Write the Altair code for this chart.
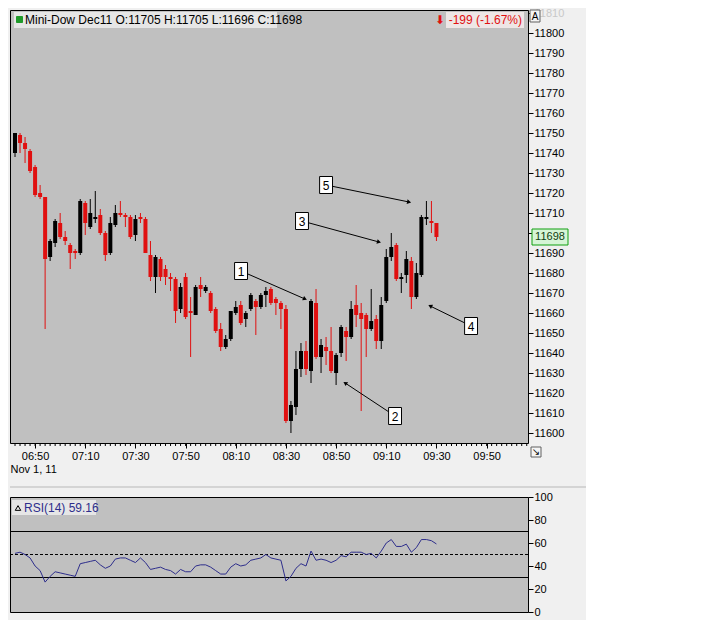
import math
import altair as alt
import pandas as pd

# ---------------- data ----------------
opens = [11740, 11749, 11745, 11741, 11733, 11720, 11718, 11688, 11695, 11705,
         11698, 11694, 11691, 11690, 11715, 11703, 11707, 11709, 11700, 11690,
         11704, 11710, 11709, 11708, 11699, 11708, 11707, 11689, 11678, 11687,
         11682, 11678, 11677, 11662, 11678, 11661, 11659, 11674, 11671, 11670,
         11662, 11652, 11643, 11647, 11660, 11664, 11657, 11662, 11666, 11663,
         11669, 11672, 11667, 11665, 11662, 11606, 11613, 11632, 11641, 11631,
         11665, 11638, 11643, 11641, 11630, 11640, 11651, 11648, 11664, 11660,
         11659, 11652, 11657, 11646, 11666, 11688, 11694, 11677, 11679, 11686,
         11668, 11679, 11707, 11706, 11705]
highs = [11750, 11750, 11748, 11742, 11734, 11724, 11718, 11697, 11707, 11710,
         11701, 11695, 11692, 11717, 11716, 11717, 11721, 11712, 11701, 11708,
         11714, 11716, 11710, 11709, 11709, 11710, 11708, 11696, 11689, 11688,
         11684, 11680, 11678, 11675, 11680, 11668, 11674, 11678, 11674, 11671,
         11663, 11655, 11649, 11661, 11666, 11666, 11661, 11670, 11667, 11670,
         11673, 11673, 11668, 11666, 11664, 11616, 11641, 11645, 11646, 11667,
         11672, 11647, 11648, 11653, 11640, 11654, 11653, 11666, 11674, 11665,
         11660, 11672, 11659, 11668, 11692, 11700, 11695, 11680, 11691, 11688,
         11685, 11709, 11716, 11716, 11705]
lows = [11738, 11740, 11735, 11730, 11718, 11717, 11652, 11686, 11693, 11697,
        11694, 11682, 11687, 11689, 11699, 11702, 11705, 11699, 11686, 11689,
        11703, 11708, 11703, 11697, 11696, 11705, 11690, 11676, 11670, 11676,
        11674, 11671, 11655, 11660, 11657, 11638, 11659, 11668, 11670, 11660,
        11650, 11641, 11642, 11646, 11659, 11654, 11653, 11661, 11649, 11662,
        11663, 11664, 11659, 11652, 11605, 11600, 11609, 11628, 11629, 11625,
        11637, 11630, 11634, 11630, 11624, 11638, 11636, 11647, 11653, 11611,
        11638, 11651, 11642, 11642, 11665, 11686, 11676, 11670, 11675, 11662,
        11667, 11678, 11704, 11700, 11696]
closes = [11750, 11745, 11742, 11731, 11719, 11718, 11687, 11696, 11706, 11698,
          11696, 11690, 11690, 11716, 11705, 11710, 11708, 11700, 11689, 11705,
          11710, 11709, 11708, 11698, 11707, 11707, 11690, 11678, 11688, 11678,
          11678, 11677, 11661, 11673, 11658, 11660, 11673, 11672, 11673, 11661,
          11651, 11643, 11647, 11661, 11663, 11655, 11660, 11669, 11663, 11669,
          11671, 11665, 11665, 11662, 11606, 11614, 11632, 11641, 11632, 11666,
          11638, 11644, 11641, 11631, 11639, 11653, 11648, 11662, 11659, 11657,
          11652, 11656, 11646, 11664, 11688, 11693, 11677, 11678, 11687, 11668,
          11680, 11708, 11708, 11705, 11698]
rsi = [51, 52, 50, 47, 40, 36, 26, 31, 35, 34,
       33, 32, 31, 42, 43, 44, 45, 41, 38, 40,
       46, 47, 47, 45, 43, 47, 43, 37, 38, 39,
       37, 36, 33, 37, 35, 35, 40, 41, 41, 39,
       36, 33, 33, 39, 42, 40, 41, 45, 46, 47,
       50, 47, 46, 45, 27, 31, 38, 42, 40, 53,
       45, 46, 45, 43, 45, 49, 48, 52, 52, 52,
       50, 51, 47, 53, 60, 63, 57, 57, 59, 52,
       56, 63, 63, 62, 59.16]

first_bar_minute = 402          # 06:42, minutes after midnight
bar_minutes = 2
x_ticks = [410, 430, 450, 470, 490, 510, 530, 550, 570, 590]
y_ticks = list(range(11600, 11811, 10))
rsi_ticks = [0, 20, 40, 60, 80, 100]
rsi_levels = [30, 70]
rsi_mid = [50]

ann_labels = ["1", "2", "3", "4", "5"]
ann_box_t = [492.1, 553.5, 516.4, 583.8, 526.0]
ann_box_p = [11681, 11608.5, 11706, 11653.5, 11724]
ann_tip_t = [517.6, 533.6, 547.1, 567.5, 559.1]
ann_tip_p = [11667, 11625, 11695.5, 11663.5, 11715.5]

last_price = 11698

# ---------------- layout constants ----------------
W, H, RH = 518, 433, 115
XDOM = [400, 606.5]
YDOM = [11595, 11811.5]
FONT = "'Liberation Sans Narrow', 'Liberation Sans', sans-serif"
RED = "#e01010"

t = [first_bar_minute + bar_minutes * i for i in range(len(opens))]
df = pd.DataFrame({"t": t, "open": opens, "high": highs, "low": lows,
                   "close": closes, "rsi": rsi})
df["dir"] = ["up" if c >= o else "down" for o, c in zip(opens, closes)]

ppm = W / (XDOM[1] - XDOM[0])
ppp = H / (YDOM[1] - YDOM[0])
angles = []
for bt, bp, tt, tp in zip(ann_box_t, ann_box_p, ann_tip_t, ann_tip_p):
    dx = (tt - bt) * ppm
    dy = -(tp - bp) * ppp
    angles.append(math.degrees(math.atan2(dx, -dy)) % 360)
ann = pd.DataFrame({"label": ann_labels, "bt": ann_box_t, "bp": ann_box_p,
                    "tt": ann_tip_t, "tp": ann_tip_p, "ang": angles})

xs = alt.Scale(domain=XDOM, nice=False, zero=False, padding=0)
ys = alt.Scale(domain=YDOM, nice=False, zero=False, padding=0)
col = alt.Color("dir:N", scale=alt.Scale(domain=["up", "down"], range=["#000000", RED]), legend=None)

x_axis = alt.Axis(values=x_ticks, orient="bottom", tickSize=5, domain=False, grid=False,
                  labelExpr="'0' + floor(datum.value/60) + ':' + (datum.value % 60 < 10 ? '0' : '') + (datum.value % 60)",
                  title="Nov 1, 11", titleAnchor="start", titleAlign="left", titleX=0, titleY=20,
                  titleFontWeight="normal", titleFontSize=11, titleFont=FONT, labelPadding=2,
                  labelOverlap=False)
y_axis = alt.Axis(values=y_ticks, orient="right", tickSize=5, domain=False, grid=False, title=None,
                  labelPadding=1, format="d", labelOverlap=False,
                  labelColor={"condition": {"test": "datum.value == 11810", "value": "#c8c8c8"}, "value": "black"},
                  labelOpacity={"condition": {"test": "datum.value == 11700", "value": 0}, "value": 1})


def X(f):
    return alt.X(f, type="quantitative", scale=xs, axis=x_axis)


def Y(f):
    return alt.Y(f, type="quantitative", scale=ys, axis=y_axis)


base = alt.Chart(df)
wicks = base.mark_rule(strokeWidth=1).encode(x=X("t"), y=Y("low"), y2="high:Q", color=col)
bodies = base.mark_bar(size=4).encode(x=X("t"), y=Y("open"), y2="close:Q", color=col)

minor = alt.Chart(pd.DataFrame({"m": list(range(402, 607, 2))})).mark_rule(color="black").encode(
    x=X("m"), y=alt.value(H), y2=alt.value(H + 3))

abase = alt.Chart(ann)
alines = abase.mark_rule(color="black", strokeWidth=1).encode(
    x=X("bt"), y=Y("bp"), x2="tt:Q", y2="tp:Q")
aheads = abase.mark_point(shape="triangle-up", filled=True, color="black", size=22, opacity=1).encode(
    x=X("tt"), y=Y("tp"), angle=alt.Angle("ang:Q", scale=None))
aboxes = abase.mark_point(shape="M-0.76,-1H0.76V1H-0.76Z", filled=True, fill="white",
                          stroke="black", strokeWidth=1, size=289, opacity=1).encode(
    x=X("bt"), y=Y("bp"))
atext = abase.mark_text(fontSize=12, font="Liberation Sans", color="black", baseline="middle", dy=1).encode(
    x=X("bt"), y=Y("bp"), text="label:N")

one = pd.DataFrame({"v": [last_price]})
tag_box = alt.Chart(pd.DataFrame({"lo": [last_price - 4], "hi": [last_price + 4]})).mark_rect(
    fill="#d6f5d6", stroke="#10a010", strokeWidth=1).encode(
    x=alt.value(W + 4), x2=alt.value(W + 40), y=Y("lo"), y2="hi:Q")
tag_text = alt.Chart(one).mark_text(fontSize=11, font=FONT, color="#104010", align="center",
                                    baseline="middle").encode(
    x=alt.value(W + 22), y=Y("v"), text=alt.Text("v:Q", format="d"))

hdr = pd.DataFrame({"s": ["Mini-Dow Dec11 O:11705 H:11705 L:11696 C:11698"]})
hdr_box = alt.Chart(hdr).mark_rect(fill="#e6e6e6").encode(
    x=alt.value(4), x2=alt.value(267), y=alt.value(2), y2=alt.value(18))
hdr_dot = alt.Chart(hdr).mark_rect(fill="#1f9a2a", cornerRadius=1).encode(
    x=alt.value(6), x2=alt.value(13), y=alt.value(6), y2=alt.value(13))
hdr_text = alt.Chart(hdr).mark_text(align="left", baseline="middle", fontSize=12, font=FONT,
                                    color="black").encode(
    x=alt.value(15), y=alt.value(10), text="s:N")

chg = pd.DataFrame({"s": ["⬇ -199 (-1.67%)"]})
chg_box = alt.Chart(chg).mark_rect(fill="#eee6e6").encode(
    x=alt.value(436), x2=alt.value(514), y=alt.value(2), y2=alt.value(18))
chg_text = alt.Chart(chg).mark_text(align="right", baseline="middle", fontSize=12, font=FONT,
                                    color=RED).encode(
    x=alt.value(512), y=alt.value(10), text="s:N")

abox = pd.DataFrame({"s": ["A"]})
a_box = alt.Chart(abox).mark_rect(fill="#f4f4f4", stroke="#606060", strokeWidth=1).encode(
    x=alt.value(520), x2=alt.value(530), y=alt.value(0), y2=alt.value(12))
a_text = alt.Chart(abox).mark_text(fontSize=10, font=FONT, color="black", baseline="middle").encode(
    x=alt.value(525), y=alt.value(6.5), text="s:N")
zbox = pd.DataFrame({"s": ["↘"]})
z_box = alt.Chart(zbox).mark_rect(fill="#f4f4f4", stroke="#606060", strokeWidth=1).encode(
    x=alt.value(521), x2=alt.value(531), y=alt.value(H + 4), y2=alt.value(H + 14))
z_text = alt.Chart(zbox).mark_text(fontSize=10, font="DejaVu Sans", color="black", baseline="middle").encode(
    x=alt.value(526), y=alt.value(H + 9), text="s:N")

sep = alt.Chart(hdr).mark_rule(color="#d4d4d4", strokeWidth=2).encode(
    x=alt.value(0), x2=alt.value(577), y=alt.value(H + 44))

top = alt.layer(sep, wicks, bodies, minor, alines, aheads, aboxes, atext,
                tag_box, tag_text, hdr_box, hdr_dot, hdr_text, chg_box, chg_text,
                a_box, a_text, z_box, z_text).properties(width=W, height=H)

# ---------------- RSI panel ----------------
rs = alt.Scale(domain=[0, 100], nice=False, zero=False, padding=0)
rsi_axis = alt.Axis(values=rsi_ticks, orient="right", tickSize=5, domain=False, grid=False,
                    title=None, labelPadding=1, labelOverlap=False)


def RY(f):
    return alt.Y(f, type="quantitative", scale=rs, axis=rsi_axis)


rsi_line = alt.Chart(df).mark_line(color="#2e2e8c", strokeWidth=1).encode(
    x=alt.X("t:Q", scale=xs, axis=None), y=RY("rsi"))
lv = alt.Chart(pd.DataFrame({"v": rsi_levels})).mark_rule(color="black", strokeWidth=1).encode(
    y=RY("v"))
mid = alt.Chart(pd.DataFrame({"v": rsi_mid})).mark_rule(color="black", strokeWidth=1,
                                                      strokeDash=[3, 2]).encode(y=RY("v"))
rlab = pd.DataFrame({"s": ["RSI(14)  59.16"]})
r_box = alt.Chart(rlab).mark_rect(fill="#e6e6e6").encode(
    x=alt.value(2), x2=alt.value(86), y=alt.value(3), y2=alt.value(18))
r_icon = alt.Chart(rlab).mark_point(shape="triangle-up", filled=False, color="black", size=30,
                                    strokeWidth=1, opacity=1).encode(
    x=alt.value(8), y=alt.value(11))
r_text = alt.Chart(rlab).mark_text(align="left", baseline="middle", fontSize=12, font=FONT,
                                   color="#2e2e8c").encode(
    x=alt.value(14), y=alt.value(11), text="s:N")

bottom = alt.layer(lv, mid, rsi_line, r_box, r_icon, r_text).properties(width=W, height=RH)

chart = alt.vconcat(top, bottom, spacing=54, bounds="flush").properties(
    padding={"left": 0, "top": -2, "right": -3, "bottom": 2},
    background="#f0f0f0",
).configure_view(
    stroke="black", strokeWidth=1, fill="#c0c0c0"
).configure_axis(
    labelFont=FONT, labelFontSize=11, labelColor="black", tickColor="black", titleColor="black"
)

chart.save("out.html", embed_options={"renderer": "svg", "actions": False})
